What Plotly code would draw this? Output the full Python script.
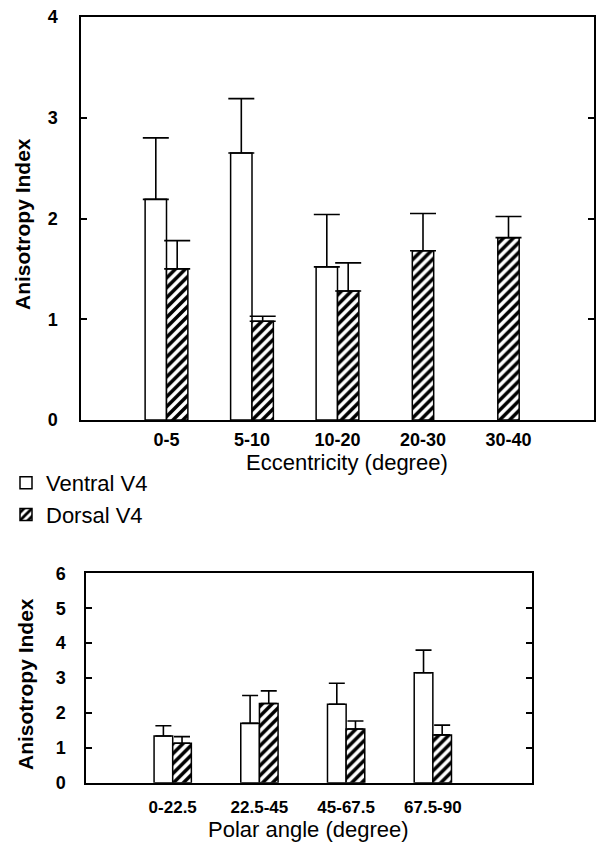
import plotly.graph_objects as go

# ---------------- data ----------------
ecc_categories = ["0-5", "5-10", "10-20", "20-30", "30-40"]
ecc_ventral = [2.19, 2.65, 1.52, None, None]
ecc_ventral_se = [0.61, 0.54, 0.52, None, None]
ecc_dorsal = [1.50, 0.98, 1.28, 1.68, 1.81]
ecc_dorsal_se = [0.28, 0.05, 0.28, 0.37, 0.21]

polar_categories = ["0-22.5", "22.5-45", "45-67.5", "67.5-90"]
polar_ventral = [1.34, 1.70, 2.25, 3.15]
polar_ventral_se = [0.29, 0.80, 0.60, 0.65]
polar_dorsal = [1.13, 2.27, 1.54, 1.37]
polar_dorsal_se = [0.19, 0.36, 0.23, 0.28]

series_names = ["Ventral V4", "Dorsal V4"]
ecc_yticks = [0, 1, 2, 3, 4]
polar_yticks = [0, 1, 2, 3, 4, 5, 6]

# ---------------- layout helpers ----------------
W, H = 596, 844
FONT = "Liberation Sans, Arial, Helvetica, sans-serif"


def px_x(p):
    return p / W


def px_y(p):
    return 1 - p / H


def grouped(cats, ventral, v_se, dorsal, d_se, width):
    vx, vy, ve, dx, dy, de = [], [], [], [], [], []
    for i in range(len(cats)):
        if ventral[i] is not None:
            vx.append(i - width / 2)
            vy.append(ventral[i])
            ve.append(v_se[i])
            dx.append(i + width / 2)
        else:
            dx.append(i)
        dy.append(dorsal[i])
        de.append(d_se[i])
    return vx, vy, ve, dx, dy, de


HATCH = dict(shape="/", fgcolor="black", bgcolor="white", size=7, solidity=0.5)

fig = go.Figure()

# ---------------- top chart ----------------
w1 = 0.25
vx, vy, ve, dx, dy, de = grouped(ecc_categories, ecc_ventral, ecc_ventral_se,
                                 ecc_dorsal, ecc_dorsal_se, w1)
fig.add_trace(go.Bar(
    x=vx, y=vy, width=w1, name=series_names[0], xaxis="x", yaxis="y",
    marker=dict(color="white", line=dict(color="black", width=1.5)),
    error_y=dict(type="data", array=ve, arrayminus=[0] * len(ve), symmetric=False,
                 color="black", thickness=1.6, width=13),
    legendgroup="v", showlegend=True))
fig.add_trace(go.Bar(
    x=dx, y=dy, width=w1, name=series_names[1], xaxis="x", yaxis="y",
    marker=dict(color="white", line=dict(color="black", width=1.5), pattern=HATCH),
    error_y=dict(type="data", array=de, arrayminus=[0] * len(de), symmetric=False,
                 color="black", thickness=1.6, width=13),
    legendgroup="d", showlegend=True))

# ---------------- bottom chart ----------------
w2 = 0.215
vx2, vy2, ve2, dx2, dy2, de2 = grouped(polar_categories, polar_ventral, polar_ventral_se,
                                       polar_dorsal, polar_dorsal_se, w2)
fig.add_trace(go.Bar(
    x=vx2, y=vy2, width=w2, name=series_names[0], xaxis="x2", yaxis="y2",
    marker=dict(color="white", line=dict(color="black", width=1.5)),
    error_y=dict(type="data", array=ve2, arrayminus=[0] * len(ve2), symmetric=False,
                 color="black", thickness=1.6, width=8),
    legendgroup="v", showlegend=False))
fig.add_trace(go.Bar(
    x=dx2, y=dy2, width=w2, name=series_names[1], xaxis="x2", yaxis="y2",
    marker=dict(color="white", line=dict(color="black", width=1.5), pattern=HATCH),
    error_y=dict(type="data", array=de2, arrayminus=[0] * len(de2), symmetric=False,
                 color="black", thickness=1.6, width=8),
    legendgroup="d", showlegend=False))

tick_font = dict(family=FONT, size=18, color="black", weight="bold")
tick_font2 = dict(family=FONT, size=17, color="black", weight="bold")

top_xdom = [px_x(81), px_x(594)]
top_ydom = [px_y(420), px_y(17)]
bot_xdom = [px_x(86), px_x(531.7)]
bot_ydom = [px_y(782.7), px_y(573.3)]

common = dict(automargin=False, showgrid=False, zeroline=False)

fig.update_layout(
    template="none",
    width=W, height=H,
    margin=dict(l=0, r=0, t=0, b=0, pad=0),
    paper_bgcolor="white", plot_bgcolor="white",
    barmode="overlay",
    font=dict(family=FONT, color="black"),
    xaxis=dict(domain=top_xdom, anchor="y", range=[-1, 5],
               tickvals=list(range(len(ecc_categories))), ticktext=ecc_categories,
               ticks="", showline=True, linecolor="black", linewidth=1.5,
               mirror=True, tickfont=tick_font, ticklabelstandoff=3, **common),
    xaxis3=dict(overlaying="x", side="top", anchor="y", range=[-1, 5],
                tickvals=list(range(len(ecc_categories))), ticks="inside",
                ticklen=6, tickwidth=1.5, tickcolor="black",
                showticklabels=False, showline=False, **common),
    yaxis=dict(domain=top_ydom, anchor="x", range=[0, 4], tickvals=ecc_yticks,
               ticks="inside", ticklen=6, tickwidth=1.5, tickcolor="black",
               showline=True, linecolor="black", linewidth=1.5, mirror="ticks",
               tickfont=tick_font, ticklabelstandoff=18, **common),
    xaxis2=dict(domain=bot_xdom, anchor="y2", range=[-1, 4.14],
                tickvals=list(range(len(polar_categories))), ticktext=polar_categories,
                ticks="", showline=True, linecolor="black", linewidth=1.5,
                mirror=True, tickfont=tick_font2, ticklabelstandoff=8, **common),
    xaxis4=dict(overlaying="x2", side="top", anchor="y2", range=[-1, 4.14],
                tickvals=list(range(len(polar_categories))), ticks="inside",
                ticklen=6, tickwidth=1.5, tickcolor="black",
                showticklabels=False, showline=False, **common),
    yaxis2=dict(domain=bot_ydom, anchor="x2", range=[0, 6], tickvals=polar_yticks,
                ticks="inside", ticklen=6, tickwidth=1.5, tickcolor="black",
                showline=True, linecolor="black", linewidth=1.5, mirror="ticks",
                tickfont=tick_font, ticklabelstandoff=15, **common),
    legend=dict(x=px_x(6), y=px_y(462), xanchor="left", yanchor="top",
                font=dict(family=FONT, size=22, color="black"),
                bgcolor="rgba(0,0,0,0)", tracegroupgap=0, itemclick=False),
    showlegend=True,
)

# axis titles as annotations
title_font_y = dict(family=FONT, size=21, color="black", weight="bold")
title_font_x = dict(family=FONT, size=22, color="black")
fig.add_annotation(text="Anisotropy Index", xref="paper", yref="paper",
                   x=px_x(22), y=px_y(224), textangle=-90, showarrow=False,
                   font=title_font_y, xanchor="center", yanchor="middle")
fig.add_annotation(text="Anisotropy Index", xref="paper", yref="paper",
                   x=px_x(25), y=px_y(684), textangle=-90, showarrow=False,
                   font=title_font_y, xanchor="center", yanchor="middle")
fig.add_annotation(text="Eccentricity (degree)", xref="paper", yref="paper",
                   x=px_x(347), y=px_y(462), showarrow=False,
                   font=title_font_x, xanchor="center", yanchor="middle")
fig.add_annotation(text="Polar angle (degree)", xref="paper", yref="paper",
                   x=px_x(309), y=px_y(829), showarrow=False,
                   font=title_font_x, xanchor="center", yanchor="middle")

fig.write_html(
    "out.html",
    config={"displayModeBar": False},
    post_script="document.body.style.margin='0px';document.body.style.overflow='hidden';",
)
